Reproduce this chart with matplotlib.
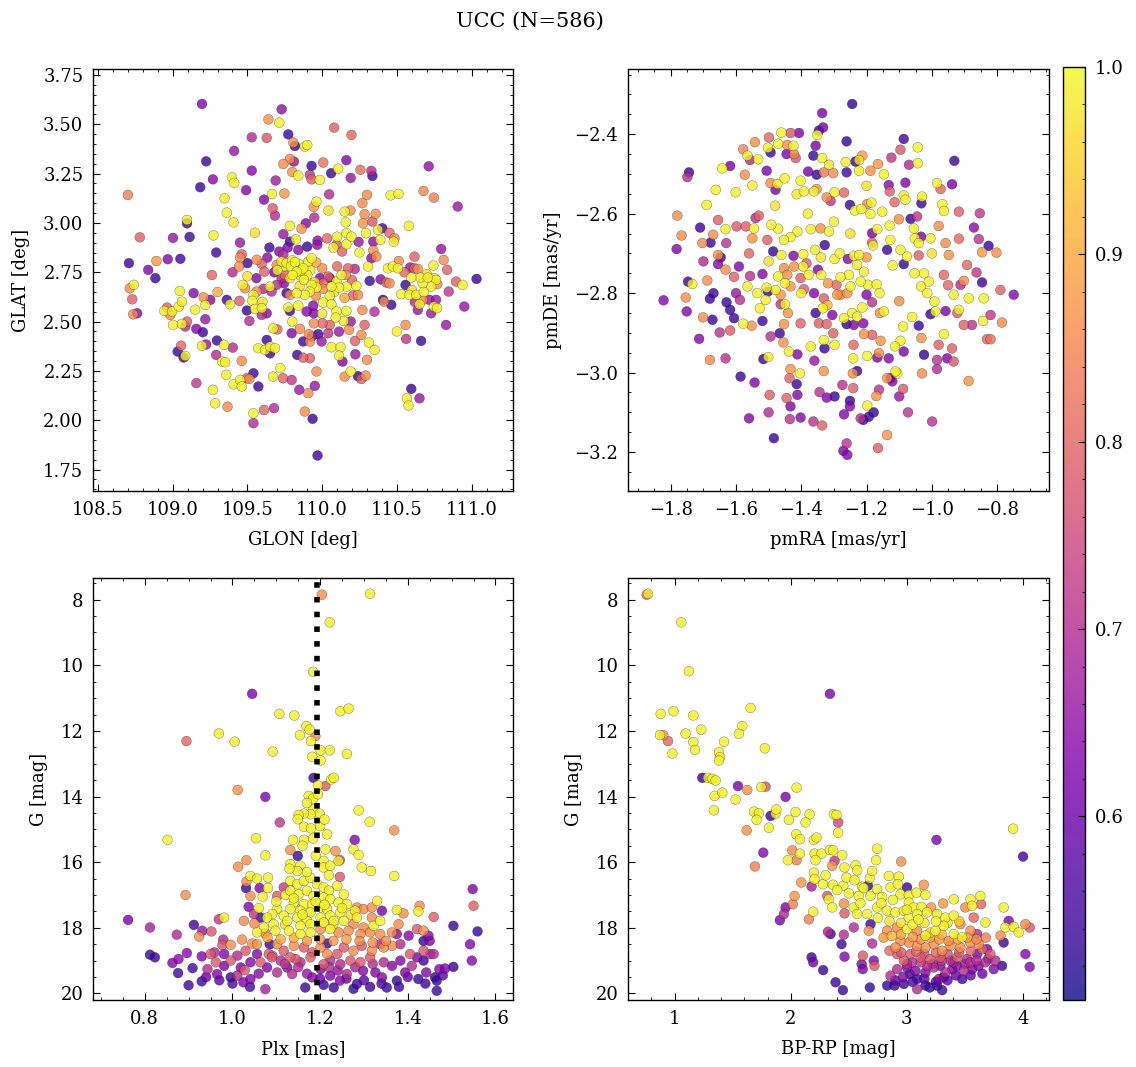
import numpy as np
import matplotlib
matplotlib.use("Agg")
import matplotlib.pyplot as plt

plt.rcParams.update({
    "font.family": "serif",
    "font.serif": ["DejaVu Serif"],
    "font.size": 13,
    "xtick.direction": "in",
    "ytick.direction": "in",
    "xtick.top": True,
    "ytick.right": True,
    "xtick.minor.visible": True,
    "ytick.minor.visible": True,
    "xtick.major.size": 5,
    "ytick.major.size": 5,
    "xtick.minor.size": 2.5,
    "ytick.minor.size": 2.5,
    "xtick.major.pad": 7,
    "ytick.major.pad": 7,
    "axes.labelpad": 9,
    "axes.linewidth": 1.0,
})

title = "UCC (N=586)"
plx_median = 1.192

# (GLON, GLAT, membership probability)
sky = [
    (109.196, 3.603, 0.63), (109.729, 3.576, 0.65), (109.640, 3.525, 0.87), (109.713, 3.508, 0.99),
    (110.080, 3.483, 0.79), (110.196, 3.446, 0.80), (109.773, 3.449, 0.54), (109.529, 3.434, 0.70),
    (109.629, 3.431, 0.78), (109.807, 3.407, 0.87), (109.818, 3.390, 0.54), (109.884, 3.387, 0.99),
    (109.900, 3.395, 0.99), (109.411, 3.365, 0.66), (109.224, 3.312, 0.54), (109.784, 3.324, 0.86),
    (109.740, 3.299, 0.86), (109.811, 3.311, 0.66), (109.929, 3.289, 0.54), (110.007, 3.306, 0.82),
    (110.162, 3.318, 0.63), (110.107, 3.275, 0.99), (110.256, 3.269, 0.82), (110.329, 3.264, 0.70),
    (110.336, 3.238, 0.54), (110.713, 3.287, 0.65), (109.529, 3.265, 0.63), (109.800, 3.258, 0.87),
    (109.840, 3.240, 0.99), (109.918, 3.243, 0.72), (109.929, 3.221, 0.79), (109.984, 3.218, 0.99),
    (110.060, 3.252, 0.54), (110.191, 3.228, 0.66), (109.269, 3.221, 0.64), (109.184, 3.181, 0.54),
    (109.396, 3.231, 0.99), (109.411, 3.203, 0.99), (109.689, 3.215, 0.67), (109.491, 3.166, 0.63),
    (109.664, 3.147, 0.99), (109.747, 3.149, 0.87), (109.611, 3.118, 0.63), (109.347, 3.125, 0.99),
    (108.700, 3.142, 0.84), (110.047, 3.145, 0.70), (109.962, 3.108, 0.99), (110.300, 3.142, 0.86),
    (110.269, 3.100, 0.86), (110.458, 3.140, 0.99), (110.511, 3.147, 0.99), (110.678, 3.162, 0.85),
    (110.747, 3.128, 0.84), (110.907, 3.083, 0.66), (109.362, 3.052, 0.99), (109.407, 3.003, 0.99),
    (109.096, 3.015, 0.99), (109.096, 2.998, 0.54), (109.669, 3.074, 0.78), (109.684, 3.037, 0.70),
    (109.944, 3.081, 0.87), (110.042, 3.063, 0.97), (110.151, 3.057, 0.99), (110.189, 3.063, 0.86),
    (109.947, 3.027, 0.70), (109.891, 2.998, 0.63), (109.784, 2.985, 0.99), (109.862, 2.971, 0.87),
    (110.158, 3.003, 0.99), (110.162, 2.948, 0.99), (110.284, 3.044, 0.86), (110.358, 3.046, 0.86),
    (110.273, 2.998, 0.87), (110.336, 3.007, 0.78), (110.373, 2.965, 0.99), (110.402, 2.973, 0.55),
    (110.580, 2.985, 0.99), (108.780, 2.927, 0.79), (109.002, 2.924, 0.66), (109.113, 2.929, 0.55),
    (109.273, 2.937, 0.99), (109.740, 2.943, 0.66), (109.824, 2.917, 0.99), (109.784, 2.905, 0.54),
    (109.969, 2.910, 0.65), (110.033, 2.922, 0.80), (110.096, 2.889, 0.79), (110.162, 2.892, 0.99),
    (110.196, 2.931, 0.99), (110.244, 2.904, 0.66), (110.293, 2.948, 0.99), (110.342, 2.905, 0.64),
    (110.389, 2.914, 0.99), (110.484, 2.922, 0.86), (110.479, 2.905, 0.99), (109.647, 2.875, 0.54),
    (109.713, 2.855, 0.64), (109.769, 2.875, 0.63), (109.840, 2.863, 0.64), (109.900, 2.880, 0.54),
    (109.967, 2.889, 0.65), (110.076, 2.875, 0.99), (110.133, 2.855, 0.79), (110.342, 2.861, 0.86),
    (110.796, 2.868, 0.66), (108.707, 2.796, 0.54), (108.836, 2.762, 0.63), (108.884, 2.720, 0.54),
    (108.891, 2.807, 0.88), (108.967, 2.816, 0.63), (109.051, 2.818, 0.55), (109.291, 2.850, 0.55),
    (109.451, 2.824, 0.86), (109.462, 2.841, 0.79), (109.444, 2.779, 0.86), (109.500, 2.796, 0.54),
    (109.562, 2.813, 0.86), (109.596, 2.792, 0.79), (109.633, 2.824, 0.64), (109.613, 2.753, 0.79),
    (109.560, 2.720, 0.63), (109.262, 2.736, 0.80), (109.696, 2.787, 0.86), (109.729, 2.804, 0.98),
    (109.762, 2.796, 0.99), (109.791, 2.779, 1.00), (109.818, 2.801, 1.00), (109.847, 2.791, 0.99),
    (109.873, 2.770, 1.00), (109.907, 2.804, 0.99), (109.929, 2.821, 0.99), (109.829, 2.753, 1.00),
    (109.856, 2.733, 0.99), (109.802, 2.736, 1.00), (109.900, 2.736, 0.99), (109.878, 2.711, 0.99),
    (109.784, 2.720, 0.98), (109.751, 2.736, 0.80), (109.729, 2.720, 0.70), (109.744, 2.694, 0.63),
    (109.696, 2.686, 0.70), (109.651, 2.677, 0.99), (109.662, 2.652, 0.70), (109.607, 2.666, 0.70),
    (109.469, 2.686, 0.99), (109.484, 2.669, 0.86), (109.562, 2.652, 0.86), (109.984, 2.720, 0.63),
    (110.007, 2.694, 0.80), (110.040, 2.728, 0.79), (110.051, 2.720, 0.54), (110.096, 2.703, 0.99),
    (110.129, 2.736, 0.99), (110.158, 2.736, 0.86), (110.173, 2.770, 0.79), (110.218, 2.767, 0.70),
    (110.307, 2.779, 0.99), (110.318, 2.706, 0.54), (110.162, 2.677, 0.99), (110.113, 2.672, 0.99),
    (110.062, 2.677, 0.99), (110.007, 2.666, 0.86), (109.962, 2.672, 0.99), (109.929, 2.686, 0.99),
    (109.918, 2.652, 0.99), (109.958, 2.632, 0.86), (109.884, 2.635, 0.99), (109.829, 2.644, 0.99),
    (109.762, 2.644, 0.54), (109.784, 2.635, 0.86), (110.229, 2.681, 0.99), (110.240, 2.635, 0.86),
    (110.207, 2.632, 0.79), (110.051, 2.630, 0.99), (110.007, 2.596, 0.99), (110.062, 2.588, 0.99),
    (109.773, 2.571, 0.99), (109.784, 2.554, 0.54), (109.840, 2.581, 0.99), (109.940, 2.581, 0.64),
    (109.896, 2.551, 0.64), (109.944, 2.542, 0.63), (109.540, 2.635, 0.99), (109.533, 2.605, 0.99),
    (109.551, 2.564, 0.99), (109.596, 2.568, 0.99), (109.496, 2.556, 0.54), (109.513, 2.503, 0.70),
    (109.596, 2.534, 0.70), (109.629, 2.542, 0.64), (109.447, 2.605, 0.79), (109.362, 2.610, 0.54),
    (109.384, 2.588, 0.99), (109.251, 2.610, 0.64), (109.207, 2.623, 0.87), (109.218, 2.584, 0.99),
    (109.140, 2.644, 0.63), (109.047, 2.655, 0.99), (108.962, 2.571, 0.79), (108.944, 2.554, 0.99),
    (108.996, 2.551, 0.99), (109.040, 2.576, 0.99), (109.062, 2.601, 0.99), (108.984, 2.534, 0.86),
    (109.002, 2.483, 0.99), (109.062, 2.488, 0.99), (109.096, 2.500, 0.79), (109.084, 2.475, 0.70),
    (108.713, 2.669, 0.86), (108.740, 2.686, 0.99), (108.729, 2.613, 0.79), (108.736, 2.537, 0.86),
    (108.762, 2.542, 0.64), (109.218, 2.512, 0.66), (109.158, 2.463, 0.63), (109.202, 2.446, 0.54),
    (109.224, 2.384, 0.66), (109.196, 2.377, 0.99), (109.056, 2.378, 0.80), (109.033, 2.348, 0.54),
    (109.084, 2.326, 0.99), (109.073, 2.318, 0.54), (109.296, 2.404, 0.54), (109.344, 2.382, 0.99),
    (109.402, 2.368, 0.70), (109.291, 2.331, 0.70), (109.331, 2.297, 0.99), (109.351, 2.294, 0.99),
    (109.462, 2.301, 0.86), (109.358, 2.230, 0.99), (109.407, 2.182, 0.99), (109.451, 2.204, 0.99),
    (109.496, 2.213, 0.80), (109.513, 2.209, 0.86), (109.540, 2.238, 0.54), (109.462, 2.171, 0.99),
    (109.269, 2.154, 0.99), (109.158, 2.188, 0.72), (109.284, 2.086, 0.99), (109.367, 2.068, 0.86),
    (109.540, 2.035, 0.99), (109.540, 1.985, 0.70), (109.611, 2.052, 0.80), (109.678, 2.061, 0.70),
    (109.573, 2.171, 0.54), (109.671, 2.221, 0.99), (109.720, 2.264, 0.99), (109.738, 2.213, 0.80),
    (109.796, 2.204, 0.72), (109.847, 2.154, 0.66), (109.907, 2.137, 0.86), (109.951, 2.174, 0.66),
    (109.962, 2.247, 0.86), (109.884, 2.044, 0.86), (109.936, 2.007, 0.54), (109.969, 1.821, 0.54),
    (109.573, 2.365, 0.99), (109.618, 2.356, 0.99), (109.651, 2.373, 0.99), (109.684, 2.365, 0.99),
    (109.651, 2.339, 0.54), (109.629, 2.407, 0.54), (109.673, 2.466, 0.99), (109.796, 2.441, 0.63),
    (109.851, 2.463, 0.86), (109.873, 2.399, 0.54), (109.918, 2.399, 0.86), (109.944, 2.491, 0.86),
    (109.973, 2.436, 0.54), (109.911, 2.436, 0.86), (109.996, 2.399, 0.66), (110.040, 2.441, 0.72),
    (110.062, 2.370, 0.99), (110.124, 2.370, 0.99), (110.113, 2.327, 0.99), (110.136, 2.297, 0.63),
    (110.113, 2.449, 0.66), (110.180, 2.458, 0.86), (110.220, 2.402, 0.79), (110.262, 2.432, 0.86),
    (110.284, 2.483, 0.79), (110.313, 2.394, 0.99), (110.351, 2.356, 0.99), (110.300, 2.306, 0.86),
    (110.222, 2.334, 0.66), (109.918, 2.314, 0.79), (109.873, 2.317, 0.79), (109.833, 2.331, 0.54),
    (110.151, 2.221, 0.86), (110.191, 2.247, 0.99), (110.240, 2.223, 0.54), (110.291, 2.226, 0.86),
    (110.262, 2.209, 0.79), (110.407, 2.610, 0.54), (110.462, 2.585, 0.55), (110.414, 2.601, 0.86),
    (110.269, 2.559, 0.86), (110.162, 2.554, 0.99), (110.096, 2.551, 0.99), (110.144, 2.503, 0.99),
    (110.191, 2.500, 0.66), (110.091, 2.520, 0.99), (110.051, 2.483, 0.79), (110.002, 2.491, 0.80),
    (109.929, 2.424, 0.66), (110.558, 2.483, 0.86), (110.562, 2.412, 0.72), (110.662, 2.402, 0.54),
    (110.596, 2.159, 0.54), (110.567, 2.111, 0.99), (110.578, 2.074, 0.99), (110.651, 2.111, 0.66),
    (110.951, 2.576, 0.66), (111.033, 2.716, 0.54), (110.829, 2.483, 0.66), (110.847, 2.652, 0.72),
    (110.896, 2.703, 0.79), (110.940, 2.686, 0.99), (110.836, 2.762, 0.79), (110.813, 2.812, 0.86),
    (110.744, 2.784, 0.99), (110.751, 2.720, 0.99), (110.762, 2.711, 0.99), (110.729, 2.677, 0.99),
    (110.673, 2.694, 0.99), (110.658, 2.723, 0.99), (110.618, 2.770, 0.79), (110.640, 2.767, 0.86),
    (110.596, 2.723, 0.99), (110.589, 2.774, 0.66), (110.558, 2.686, 0.54), (110.529, 2.639, 0.99),
    (110.584, 2.635, 0.99), (110.629, 2.635, 0.99), (110.651, 2.588, 0.99), (110.673, 2.610, 0.86),
    (110.718, 2.610, 0.66), (110.762, 2.610, 0.66), (110.747, 2.576, 0.99), (110.769, 2.568, 0.99),
    (110.729, 2.542, 0.66), (110.640, 2.559, 0.66), (110.440, 2.770, 0.99), (110.473, 2.779, 0.99),
    (110.507, 2.770, 0.99), (110.513, 2.807, 0.86), (110.618, 2.829, 0.79), (110.707, 2.723, 0.99),
    (110.429, 2.698, 0.79), (110.451, 2.694, 0.86), (110.391, 2.714, 0.64), (110.362, 2.829, 0.86),
    (110.329, 2.821, 0.64), (109.700, 2.760, 0.99), (109.750, 2.780, 0.97), (109.800, 2.810, 0.99),
    (109.860, 2.760, 0.99), (109.920, 2.760, 0.98), (109.960, 2.800, 0.90), (110.000, 2.770, 0.86),
    (110.100, 2.780, 0.80), (109.740, 2.840, 0.70), (109.680, 2.750, 0.62), (109.850, 2.680, 0.97),
    (109.950, 2.700, 0.97), (110.080, 2.650, 0.97), (110.150, 2.620, 0.90), (110.200, 2.710, 0.80),
    (110.600, 2.660, 0.97), (110.680, 2.650, 0.99), (110.700, 2.740, 0.97), (110.770, 2.690, 0.86),
    (110.550, 2.750, 0.80), (110.620, 2.600, 0.70), (109.500, 2.730, 0.97), (109.400, 2.750, 0.70),
    (109.300, 2.650, 0.90), (109.150, 2.560, 0.99), (109.600, 2.600, 0.97), (109.700, 2.460, 0.80),
    (109.800, 2.500, 0.99), (110.000, 2.540, 0.97), (110.350, 2.550, 0.70), (110.250, 2.850, 0.99),
    (109.550, 2.950, 0.97), (109.450, 2.900, 0.66), (110.450, 2.950, 0.80), (110.500, 2.450, 0.99),
    (110.100, 2.930, 0.99),
]

# (pmRA, pmDE, membership probability)
pms = [
    (-1.244, -2.324, 0.53), (-1.336, -2.347, 0.62), (-1.333, -2.383, 0.62), (-1.346, -2.391, 0.53),
    (-1.351, -2.402, 1.00), (-1.261, -2.418, 0.53), (-1.086, -2.412, 0.55), (-1.043, -2.433, 0.99),
    (-1.096, -2.439, 0.78), (-0.931, -2.467, 0.54), (-1.043, -2.473, 0.99), (-1.070, -2.477, 0.70),
    (-1.124, -2.459, 0.72), (-1.165, -2.475, 0.88), (-1.147, -2.501, 1.00), (-1.188, -2.492, 0.87),
    (-1.213, -2.454, 0.88), (-1.223, -2.465, 0.98), (-1.234, -2.469, 0.54), (-1.264, -2.470, 0.99),
    (-1.223, -2.492, 0.99), (-1.261, -2.496, 0.55), (-1.302, -2.498, 0.86), (-1.331, -2.496, 0.84),
    (-1.353, -2.502, 0.53), (-1.379, -2.494, 0.62), (-1.336, -2.460, 0.99), (-1.315, -2.477, 0.98),
    (-1.363, -2.454, 0.53), (-1.356, -2.429, 0.62), (-1.407, -2.397, 0.63), (-1.433, -2.397, 0.78),
    (-1.461, -2.396, 1.00), (-1.499, -2.408, 0.80), (-1.471, -2.424, 1.00), (-1.443, -2.427, 0.86),
    (-1.424, -2.429, 0.99), (-1.422, -2.450, 0.85), (-1.417, -2.460, 0.78), (-1.445, -2.450, 0.62),
    (-1.494, -2.446, 0.54), (-1.502, -2.434, 0.99), (-1.542, -2.420, 0.86), (-1.578, -2.438, 0.85),
    (-1.565, -2.454, 0.99), (-1.532, -2.463, 0.99), (-1.557, -2.465, 0.70), (-1.618, -2.480, 0.62),
    (-1.642, -2.486, 1.00), (-1.573, -2.502, 0.86), (-1.550, -2.529, 0.99), (-1.506, -2.492, 0.62),
    (-1.473, -2.525, 0.99), (-1.494, -2.523, 0.86), (-1.479, -2.540, 0.62), (-1.451, -2.511, 0.99),
    (-1.402, -2.517, 1.00), (-1.392, -2.544, 0.99), (-1.414, -2.551, 0.98), (-1.361, -2.544, 0.99),
    (-1.353, -2.538, 0.87), (-1.322, -2.559, 0.86), (-1.310, -2.568, 0.72), (-1.298, -2.546, 0.99),
    (-1.269, -2.547, 0.80), (-1.251, -2.578, 0.54), (-1.198, -2.576, 0.86), (-1.185, -2.572, 0.99),
    (-1.236, -2.592, 0.99), (-1.216, -2.588, 0.99), (-1.188, -2.601, 1.00), (-1.152, -2.595, 0.99),
    (-1.114, -2.571, 0.80), (-1.081, -2.565, 0.99), (-1.086, -2.554, 0.98), (-1.081, -2.522, 0.63),
    (-1.132, -2.528, 0.64), (-1.129, -2.544, 0.79), (-1.030, -2.557, 0.99), (-1.032, -2.574, 0.54),
    (-0.984, -2.523, 0.99), (-0.973, -2.538, 0.80), (-0.938, -2.526, 0.62), (-0.968, -2.576, 0.99),
    (-0.963, -2.593, 0.99), (-0.917, -2.595, 0.79), (-0.853, -2.599, 0.72), (-0.871, -2.635, 0.64),
    (-0.856, -2.664, 0.71), (-0.826, -2.681, 0.54), (-0.846, -2.697, 0.88), (-0.802, -2.698, 0.86),
    (-0.892, -2.729, 0.80), (-0.863, -2.748, 0.72), (-0.846, -2.773, 0.54), (-0.790, -2.792, 0.79),
    (-0.749, -2.804, 0.63), (-0.785, -2.874, 0.86), (-0.820, -2.855, 0.72), (-0.843, -2.870, 0.99),
    (-0.831, -2.916, 0.80), (-0.820, -2.916, 0.82), (-0.887, -2.813, 0.99), (-0.841, -2.813, 1.00),
    (-0.912, -2.779, 0.70), (-0.917, -2.842, 0.99), (-0.902, -2.769, 0.86), (-0.887, -3.021, 0.87),
    (-0.948, -2.704, 0.87), (-0.963, -2.754, 0.80), (-0.958, -2.674, 0.86), (-0.917, -2.663, 0.80),
    (-0.979, -2.631, 0.86), (-1.004, -2.662, 0.99), (-1.033, -2.658, 0.62), (-1.052, -2.662, 0.99),
    (-1.055, -2.637, 0.99), (-1.065, -2.613, 0.54), (-1.045, -2.607, 0.72), (-1.101, -2.614, 0.86),
    (-1.129, -2.630, 1.00), (-1.127, -2.666, 0.99), (-1.167, -2.639, 0.99), (-1.183, -2.649, 0.62),
    (-1.183, -2.673, 0.79), (-1.137, -2.691, 0.54), (-1.096, -2.691, 0.99), (-1.076, -2.708, 0.99),
    (-1.086, -2.727, 0.53), (-1.040, -2.705, 0.79), (-1.040, -2.674, 0.99), (-1.053, -2.750, 0.99),
    (-1.024, -2.750, 0.99), (-1.033, -2.783, 0.99), (-1.009, -2.771, 0.99), (-1.014, -2.800, 0.99),
    (-0.992, -2.821, 0.99), (-0.989, -2.846, 0.99), (-1.004, -2.853, 0.54), (-0.958, -2.845, 0.62),
    (-0.933, -2.804, 0.99), (-0.922, -2.850, 0.79), (-0.902, -2.880, 0.79), (-0.877, -2.880, 0.71),
    (-0.963, -2.903, 0.99), (-0.979, -2.930, 0.79), (-0.938, -2.939, 0.79), (-0.933, -2.972, 0.78),
    (-0.953, -2.964, 0.63), (-0.984, -2.968, 0.71), (-0.984, -2.991, 0.70), (-1.030, -3.002, 0.86),
    (-1.024, -2.955, 0.53), (-1.040, -2.882, 0.54), (-1.032, -2.913, 0.87), (-1.086, -2.947, 0.62),
    (-1.096, -2.920, 0.99), (-1.088, -2.884, 0.99), (-1.113, -2.934, 0.99), (-1.106, -3.002, 0.99),
    (-1.088, -3.041, 0.78), (-1.127, -3.014, 0.54), (-1.132, -2.964, 0.63), (-1.162, -2.951, 0.86),
    (-1.157, -2.920, 0.87), (-1.183, -2.905, 0.79), (-1.208, -2.903, 0.87), (-1.210, -2.876, 0.63),
    (-1.239, -2.880, 0.62), (-1.261, -2.878, 0.53), (-1.244, -2.850, 0.99), (-1.229, -2.859, 0.99),
    (-1.269, -2.863, 0.99), (-1.213, -2.836, 0.99), (-1.147, -2.846, 0.99), (-1.159, -2.850, 0.87),
    (-1.183, -2.823, 0.71), (-1.200, -2.804, 0.63), (-1.196, -2.779, 0.99), (-1.169, -2.778, 0.99),
    (-1.218, -2.771, 0.99), (-1.208, -2.746, 0.99), (-1.229, -2.729, 0.99), (-1.254, -2.754, 0.99),
    (-1.249, -2.783, 0.99), (-1.259, -2.800, 0.87), (-1.280, -2.804, 0.86), (-1.292, -2.779, 0.80),
    (-1.318, -2.775, 0.87), (-1.339, -2.754, 0.99), (-1.349, -2.741, 0.63), (-1.377, -2.754, 0.99),
    (-1.384, -2.725, 0.79), (-1.394, -2.733, 0.99), (-1.422, -2.733, 0.87), (-1.453, -2.737, 0.86),
    (-1.461, -2.704, 0.99), (-1.424, -2.706, 0.63), (-1.394, -2.702, 0.99), (-1.358, -2.691, 0.99),
    (-1.328, -2.679, 0.54), (-1.298, -2.714, 0.99), (-1.282, -2.700, 0.99), (-1.257, -2.714, 0.63),
    (-1.239, -2.706, 0.99), (-1.223, -2.704, 0.99), (-1.315, -2.645, 0.99), (-1.341, -2.637, 0.87),
    (-1.371, -2.639, 0.99), (-1.412, -2.645, 0.99), (-1.433, -2.659, 0.99), (-1.453, -2.666, 0.99),
    (-1.471, -2.638, 0.99), (-1.492, -2.628, 0.99), (-1.504, -2.666, 0.79), (-1.486, -2.695, 0.54),
    (-1.540, -2.611, 0.71), (-1.530, -2.605, 0.79), (-1.545, -2.637, 0.99), (-1.550, -2.662, 0.87),
    (-1.570, -2.632, 0.79), (-1.598, -2.632, 0.78), (-1.632, -2.639, 0.99), (-1.655, -2.616, 0.79),
    (-1.670, -2.653, 0.86), (-1.678, -2.673, 0.54), (-1.703, -2.674, 0.86), (-1.710, -2.635, 0.54),
    (-1.690, -2.578, 0.99), (-1.662, -2.540, 0.99), (-1.601, -2.546, 0.99), (-1.744, -2.496, 0.54),
    (-1.749, -2.508, 0.71), (-1.780, -2.605, 0.86), (-1.767, -2.655, 0.86), (-1.782, -2.689, 0.63),
    (-1.747, -2.771, 0.54), (-1.734, -2.777, 0.99), (-1.688, -2.768, 0.86), (-1.655, -2.704, 0.87),
    (-1.647, -2.710, 0.54), (-1.655, -2.727, 0.63), (-1.632, -2.741, 0.86), (-1.630, -2.674, 0.71),
    (-1.591, -2.733, 0.63), (-1.606, -2.759, 0.79), (-1.557, -2.757, 0.71), (-1.519, -2.752, 0.63),
    (-1.471, -2.758, 0.99), (-1.443, -2.754, 0.87), (-1.402, -2.762, 0.79), (-1.450, -2.775, 0.99),
    (-1.479, -2.792, 0.99), (-1.506, -2.786, 0.99), (-1.535, -2.800, 0.99), (-1.565, -2.783, 0.99),
    (-1.527, -2.838, 0.99), (-1.509, -2.817, 0.99), (-1.502, -2.796, 0.54), (-1.463, -2.804, 0.87),
    (-1.433, -2.783, 0.87), (-1.392, -2.790, 0.79), (-1.361, -2.800, 0.63), (-1.331, -2.813, 0.79),
    (-1.290, -2.804, 0.87), (-1.822, -2.818, 0.63), (-1.754, -2.811, 0.86), (-1.751, -2.846, 0.63),
    (-1.701, -2.861, 0.86), (-1.672, -2.867, 0.54), (-1.680, -2.814, 0.54), (-1.669, -2.800, 0.54),
    (-1.629, -2.823, 0.54), (-1.618, -2.842, 0.54), (-1.606, -2.863, 0.54), (-1.588, -2.817, 0.71),
    (-1.618, -2.894, 0.79), (-1.650, -2.899, 0.71), (-1.713, -2.915, 0.63), (-1.680, -2.968, 0.86),
    (-1.632, -2.964, 0.71), (-1.578, -2.877, 0.99), (-1.552, -2.882, 0.87), (-1.519, -2.870, 0.54),
    (-1.494, -2.909, 0.71), (-1.466, -2.901, 0.54), (-1.453, -2.878, 0.87), (-1.463, -2.828, 0.71),
    (-1.450, -2.828, 0.99), (-1.441, -2.850, 0.87), (-1.402, -2.876, 0.79), (-1.356, -2.850, 0.54),
    (-1.334, -2.838, 0.99), (-1.346, -2.876, 0.79), (-1.305, -2.855, 0.63), (-1.322, -2.878, 0.79),
    (-1.302, -2.901, 0.79), (-1.331, -2.918, 0.99), (-1.298, -2.930, 0.99), (-1.329, -2.939, 0.54),
    (-1.371, -2.934, 0.99), (-1.412, -2.954, 0.63), (-1.438, -2.947, 0.99), (-1.455, -2.924, 0.87),
    (-1.501, -2.961, 0.99), (-1.516, -2.966, 0.54), (-1.586, -3.010, 0.54), (-1.543, -3.025, 0.63),
    (-1.497, -3.056, 0.79), (-1.445, -3.064, 0.79), (-1.414, -3.029, 0.54), (-1.412, -3.056, 0.63),
    (-1.433, -3.085, 0.63), (-1.435, -3.117, 0.71), (-1.402, -3.113, 0.63), (-1.363, -3.123, 0.71),
    (-1.336, -3.133, 0.79), (-1.344, -3.049, 0.71), (-1.322, -3.063, 0.63), (-1.298, -3.060, 0.54),
    (-1.274, -3.031, 0.71), (-1.242, -3.002, 0.87), (-1.229, -2.996, 0.54), (-1.241, -3.039, 0.79),
    (-1.251, -3.071, 0.54), (-1.251, -3.085, 0.63), (-1.269, -3.105, 0.63), (-1.218, -3.115, 0.71),
    (-1.210, -3.119, 0.54), (-1.193, -3.111, 0.54), (-1.178, -3.100, 0.54), (-1.198, -3.083, 0.99),
    (-1.170, -3.059, 0.87), (-1.162, -3.043, 0.71), (-1.137, -3.014, 0.87), (-1.111, -2.997, 0.99),
    (-1.121, -3.022, 0.63), (-1.484, -3.165, 0.54), (-1.560, -3.115, 0.63), (-1.261, -3.178, 0.71),
    (-1.271, -3.197, 0.63), (-1.259, -3.207, 0.63), (-1.165, -3.190, 0.79), (-1.137, -3.157, 0.87),
    (-1.073, -3.100, 0.71), (-0.999, -3.123, 0.71), (-1.331, -2.996, 0.87), (-1.404, -3.002, 0.99),
    (-1.433, -2.991, 0.87), (-1.436, -3.014, 0.79), (-1.241, -2.964, 0.99), (-1.198, -2.958, 0.99),
    (-1.167, -2.962, 0.63), (-1.380, -2.600, 0.99), (-1.300, -2.620, 0.99), (-1.250, -2.650, 0.97),
    (-1.180, -2.680, 0.99), (-1.120, -2.730, 0.99), (-1.340, -2.710, 0.97), (-1.280, -2.760, 0.99),
    (-1.200, -2.710, 0.88), (-1.400, -2.800, 0.99), (-1.320, -2.830, 0.92), (-1.160, -2.800, 0.99),
    (-1.100, -2.820, 0.86), (-1.060, -2.860, 0.99), (-1.240, -2.930, 0.80), (-1.360, -2.970, 0.66),
    (-1.500, -2.720, 0.97), (-1.560, -2.700, 0.80), (-1.600, -2.800, 0.66), (-1.480, -2.580, 0.97),
    (-1.200, -2.530, 0.97), (-1.000, -2.700, 0.97), (-0.950, -2.780, 0.80), (-1.700, -2.720, 0.70),
    (-1.100, -3.060, 0.66), (-1.500, -3.100, 0.70),
]

# (Plx, G, membership probability)
plx_g = [
    (1.204, 7.85, 0.86), (1.314, 7.82, 0.99), (1.222, 8.69, 0.99), (1.184, 10.20, 0.99),
    (1.045, 10.87, 0.62), (1.107, 11.48, 0.99), (1.141, 11.53, 0.99), (1.246, 11.40, 0.99),
    (1.265, 11.32, 0.99), (1.169, 11.85, 0.99), (1.176, 11.96, 0.99), (1.154, 12.13, 0.99),
    (1.179, 12.31, 0.99), (1.189, 12.16, 0.85), (0.969, 12.08, 0.99), (1.005, 12.33, 0.99),
    (0.895, 12.31, 0.80), (1.092, 12.63, 0.99), (1.201, 12.59, 0.99), (1.222, 12.59, 0.99),
    (1.261, 12.70, 0.99), (1.182, 12.79, 0.99), (1.201, 12.90, 0.99), (1.185, 13.43, 0.54),
    (1.212, 13.68, 0.78), (1.225, 13.48, 0.99), (1.231, 13.43, 0.99), (1.195, 13.66, 0.99),
    (1.012, 13.80, 0.87), (1.075, 14.01, 0.63), (1.174, 13.98, 0.99), (1.184, 14.06, 0.99),
    (1.195, 13.93, 0.99), (1.184, 14.39, 0.99), (1.199, 14.52, 0.99), (1.178, 14.54, 0.99),
    (1.163, 14.52, 0.99), (1.151, 14.56, 0.99), (1.149, 14.69, 0.99), (1.288, 14.42, 0.99),
    (1.313, 14.77, 0.99), (1.108, 14.79, 0.72), (1.163, 14.92, 0.99), (1.179, 14.97, 0.99),
    (1.216, 15.15, 0.99), (0.852, 15.32, 0.99), (1.054, 15.27, 0.99), (1.138, 15.32, 0.99),
    (1.163, 15.32, 0.99), (1.184, 15.28, 0.99), (1.279, 15.32, 0.63), (1.369, 15.03, 0.87),
    (1.132, 15.63, 0.86), (1.149, 15.81, 0.54), (1.212, 15.61, 0.99), (1.235, 15.66, 0.87),
    (1.276, 15.61, 0.99), (1.288, 15.78, 0.99), (1.075, 15.79, 0.99), (1.032, 15.94, 0.86),
    (1.013, 16.14, 0.86), (1.245, 15.94, 0.78), (1.242, 15.96, 0.99), (1.295, 16.16, 0.99),
    (1.316, 16.27, 0.99), (1.369, 16.42, 0.99), (1.132, 16.06, 0.99), (1.155, 16.11, 0.99),
    (1.148, 16.27, 0.99), (1.208, 15.96, 0.99), (1.208, 16.16, 0.99), (1.223, 16.11, 0.99),
    (1.041, 16.42, 0.99), (1.056, 16.50, 0.99), (1.081, 16.47, 0.99), (1.032, 16.59, 0.86),
    (1.031, 16.79, 0.54), (1.062, 16.79, 0.62), (1.081, 16.79, 0.99), (1.069, 17.05, 0.99),
    (1.041, 17.03, 0.86), (0.893, 17.00, 0.86), (1.245, 16.45, 0.78), (1.239, 16.72, 0.99),
    (1.254, 16.98, 0.99), (1.117, 16.77, 0.72), (1.121, 17.00, 0.99), (1.102, 17.03, 0.79),
    (1.132, 16.57, 0.99), (1.148, 16.67, 0.99), (1.163, 16.57, 0.99), (1.178, 16.47, 0.99),
    (1.193, 16.67, 0.99), (1.208, 16.77, 0.99), (1.220, 16.87, 0.99), (1.132, 16.87, 0.99),
    (1.151, 16.98, 0.99), (1.170, 16.87, 0.99), (1.185, 17.03, 0.99), (1.208, 17.08, 0.99),
    (1.223, 17.13, 0.99), (1.242, 17.23, 0.99), (1.140, 17.23, 0.99), (1.163, 17.28, 0.99),
    (1.182, 17.28, 0.99), (1.201, 17.38, 0.99), (1.216, 17.43, 0.99), (1.132, 17.43, 0.99),
    (1.155, 17.48, 0.99), (1.178, 17.53, 0.99), (1.102, 17.43, 0.99), (1.091, 17.58, 0.99),
    (1.117, 17.63, 0.99), (1.148, 17.69, 0.99), (1.170, 17.79, 0.99), (1.201, 17.69, 0.99),
    (1.223, 17.63, 0.99), (1.246, 17.53, 0.99), (1.261, 17.28, 0.99), (1.280, 17.48, 0.99),
    (1.284, 17.38, 0.86), (1.299, 17.43, 0.86), (1.318, 17.38, 0.86), (1.330, 17.18, 0.99),
    (1.341, 17.48, 0.62), (1.375, 17.46, 0.99), (1.390, 17.56, 0.86), (1.424, 17.50, 0.99),
    (1.427, 17.33, 0.86), (1.459, 17.67, 0.79), (1.550, 17.33, 0.79), (1.548, 16.82, 0.62),
    (1.079, 17.69, 0.99), (1.094, 17.89, 0.99), (1.125, 17.79, 0.99), (1.155, 17.94, 0.99),
    (1.178, 17.89, 0.99), (1.208, 17.84, 0.99), (1.231, 17.79, 0.99), (1.254, 17.79, 0.99),
    (1.276, 17.89, 0.86), (1.299, 17.99, 0.86), (1.322, 17.94, 0.99), (1.337, 17.79, 0.99),
    (1.318, 17.69, 0.86), (1.284, 17.69, 0.99), (1.072, 17.99, 0.99), (1.098, 18.09, 0.99),
    (1.129, 18.09, 0.99), (1.155, 18.19, 0.99), (1.178, 18.14, 0.99), (1.201, 18.04, 0.86),
    (1.223, 18.04, 0.99), (1.242, 18.14, 0.86), (1.265, 18.09, 0.86), (1.292, 18.19, 0.86),
    (1.314, 18.14, 0.86), (1.337, 18.19, 0.86), (1.364, 18.14, 0.86), (1.379, 17.89, 0.86),
    (1.375, 18.19, 0.63), (1.056, 18.14, 0.99), (1.075, 18.17, 0.86), (1.050, 17.87, 0.86),
    (1.026, 17.79, 0.86), (1.022, 18.36, 0.86), (1.045, 18.48, 0.86), (0.996, 18.52, 0.86),
    (0.981, 17.69, 0.99), (0.969, 17.74, 0.72), (1.037, 17.36, 0.63), (1.049, 17.58, 0.72),
    (1.064, 17.69, 0.54), (0.762, 17.76, 0.62), (0.812, 17.99, 0.68), (0.873, 18.21, 0.70),
    (0.912, 17.91, 0.55), (0.931, 18.09, 0.66), (0.952, 18.11, 0.78), (0.924, 18.27, 0.86),
    (0.812, 18.82, 0.54), (0.823, 18.90, 0.54), (0.863, 19.07, 0.63), (0.877, 18.95, 0.64),
    (0.896, 18.77, 0.64), (0.876, 19.38, 0.55), (0.909, 19.23, 0.55), (0.930, 18.87, 0.63),
    (0.930, 19.63, 0.54), (0.943, 19.26, 0.70), (0.965, 19.41, 0.63), (0.959, 18.75, 0.70),
    (0.981, 18.80, 0.63), (0.979, 18.36, 0.70), (0.962, 19.05, 0.78), (0.996, 19.51, 0.54),
    (1.011, 19.46, 0.70), (1.025, 19.66, 0.62), (1.028, 19.29, 0.78), (1.041, 19.56, 0.63),
    (1.075, 19.87, 0.68), (1.064, 19.05, 0.78), (1.085, 18.50, 0.54), (1.091, 18.85, 0.78),
    (1.056, 18.80, 0.63), (1.079, 19.21, 0.63), (1.102, 19.36, 0.70), (1.125, 19.21, 0.63),
    (1.136, 19.41, 0.70), (1.144, 18.95, 0.78), (1.155, 19.05, 0.70), (1.178, 18.90, 0.79),
    (1.166, 19.82, 0.54), (1.182, 19.51, 0.63), (1.201, 19.26, 0.63), (1.216, 18.48, 0.54),
    (1.223, 19.46, 0.63), (1.208, 19.74, 0.54), (1.231, 19.82, 0.54), (1.245, 19.61, 0.63),
    (1.261, 19.41, 0.70), (1.276, 19.86, 0.54), (1.284, 19.71, 0.54), (1.298, 19.31, 0.63),
    (1.314, 19.80, 0.54), (1.326, 19.36, 0.63), (1.341, 19.51, 0.63), (1.352, 19.82, 0.54),
    (1.345, 19.05, 0.70), (1.364, 19.16, 0.63), (1.375, 19.61, 0.54), (1.383, 19.00, 0.63),
    (1.394, 19.36, 0.63), (1.409, 19.16, 0.70), (1.424, 19.56, 0.54), (1.436, 19.00, 0.54),
    (1.442, 19.36, 0.63), (1.451, 18.80, 0.70), (1.462, 19.51, 0.54), (1.466, 19.92, 0.54),
    (1.472, 19.26, 0.63), (1.485, 19.24, 0.63), (1.504, 19.19, 0.54), (1.466, 19.61, 0.54),
    (1.436, 18.40, 0.54), (1.450, 18.40, 0.63), (1.421, 18.04, 0.78), (1.436, 18.09, 0.86),
    (1.447, 18.24, 0.63), (1.504, 17.94, 0.54), (1.542, 18.50, 0.63), (1.559, 18.11, 0.54),
    (1.546, 19.00, 0.63), (1.402, 18.24, 0.63), (1.383, 18.50, 0.70), (1.364, 18.55, 0.86),
    (1.337, 18.50, 0.70), (1.345, 18.60, 0.86), (1.318, 18.70, 0.86), (1.295, 18.55, 0.78),
    (1.276, 18.70, 0.86), (1.254, 18.60, 0.78), (1.239, 18.80, 0.78), (1.216, 18.80, 0.86),
    (1.201, 18.60, 0.86), (1.182, 18.75, 0.78), (1.163, 18.60, 0.78), (1.140, 18.55, 0.86),
    (1.117, 18.70, 0.78), (1.102, 18.50, 0.86), (1.083, 18.80, 0.78), (1.056, 18.50, 0.86),
    (1.030, 18.70, 0.78), (1.011, 18.85, 0.70), (0.996, 19.00, 0.78), (0.977, 18.52, 0.78),
    (0.950, 18.80, 0.78), (1.292, 19.05, 0.78), (1.314, 18.90, 0.78), (1.269, 19.00, 0.78),
    (1.246, 19.11, 0.70), (1.223, 19.00, 0.70), (1.208, 19.11, 0.78), (1.132, 18.90, 0.78),
    (1.110, 19.00, 0.70), (1.041, 19.05, 0.63), (1.019, 19.21, 0.63), (0.981, 19.16, 0.63),
    (1.436, 18.70, 0.78), (1.459, 18.80, 0.70), (1.405, 18.80, 0.78), (1.421, 18.90, 0.63),
    (1.100, 17.20, 0.99), (1.120, 17.90, 0.97), (1.140, 17.10, 0.99), (1.160, 17.60, 0.99),
    (1.190, 17.20, 0.99), (1.210, 17.30, 0.99), (1.230, 17.90, 0.97), (1.250, 17.40, 0.99),
    (1.270, 17.60, 0.97), (1.060, 17.40, 0.99), (1.080, 18.30, 0.90), (1.110, 18.35, 0.90),
    (1.140, 18.30, 0.90), (1.170, 18.40, 0.88), (1.200, 18.35, 0.88), (1.230, 18.40, 0.88),
    (1.260, 18.35, 0.88), (1.290, 18.40, 0.86), (1.320, 18.45, 0.86), (1.350, 18.40, 0.86),
    (1.090, 18.90, 0.78), (1.120, 19.10, 0.72), (1.150, 19.20, 0.70), (1.170, 19.40, 0.66),
    (1.200, 19.55, 0.60), (1.220, 19.20, 0.70), (1.240, 19.30, 0.66), (1.260, 19.55, 0.60),
    (1.280, 19.20, 0.68), (1.300, 19.60, 0.58), (1.320, 19.10, 0.70), (1.340, 19.70, 0.56),
    (1.060, 19.40, 0.64), (1.040, 19.80, 0.56), (1.000, 19.70, 0.56), (0.970, 19.60, 0.58),
    (0.940, 19.50, 0.60), (0.900, 19.75, 0.55), (1.380, 19.80, 0.55), (1.400, 19.50, 0.60),
    (1.440, 19.70, 0.55), (1.480, 19.45, 0.58), (1.130, 16.20, 0.99), (1.170, 16.30, 0.99),
    (1.190, 15.80, 0.99), (1.220, 16.40, 0.99), (1.160, 15.50, 0.99), (1.200, 14.90, 0.99),
    (1.170, 14.20, 0.99), (1.210, 14.70, 0.99),
]

# (BP-RP, G, membership probability)
cmd = [
    (0.771, 7.82, 0.99), (0.759, 7.85, 0.80), (1.057, 8.69, 0.99), (1.123, 10.18, 0.99),
    (2.337, 10.87, 0.62), (0.880, 11.48, 0.99), (0.989, 11.40, 0.99), (1.161, 11.53, 0.99),
    (1.654, 11.30, 0.99), (1.582, 11.85, 0.99), (1.553, 12.09, 0.99), (1.229, 11.96, 0.99),
    (1.095, 12.08, 0.99), (0.874, 12.13, 0.99), (0.902, 12.13, 0.86), (0.943, 12.31, 0.80),
    (0.980, 12.69, 0.99), (1.161, 12.34, 0.99), (1.175, 12.58, 0.99), (1.425, 12.33, 0.99),
    (1.382, 12.65, 0.99), (1.390, 12.80, 0.99), (1.382, 12.90, 0.99), (1.777, 12.53, 0.99),
    (1.238, 13.43, 0.54), (1.287, 13.43, 0.99), (1.324, 13.46, 0.99), (1.353, 13.51, 0.99),
    (1.545, 13.68, 0.62), (1.625, 13.80, 0.87), (1.746, 13.71, 0.99), (1.783, 13.70, 0.78),
    (2.050, 13.73, 0.99), (1.955, 14.01, 0.62), (1.344, 13.98, 0.99), (1.410, 13.88, 0.99),
    (1.525, 14.09, 0.99), (1.338, 14.42, 0.99), (1.683, 14.46, 0.99), (1.726, 14.51, 0.99),
    (1.706, 14.71, 0.99), (1.826, 14.59, 0.54), (1.869, 14.52, 0.99), (1.875, 14.39, 0.99),
    (1.812, 14.95, 0.99), (1.620, 15.03, 0.87), (1.984, 14.71, 0.99), (2.041, 14.47, 0.99),
    (2.162, 14.54, 0.99), (2.127, 14.79, 0.99), (2.047, 15.15, 0.99), (2.079, 15.30, 0.99),
    (2.199, 15.32, 0.99), (2.222, 15.25, 0.99), (2.371, 14.54, 0.99), (2.394, 14.56, 0.99),
    (2.408, 14.79, 0.75), (2.408, 15.10, 0.99), (1.763, 15.71, 0.63), (1.691, 16.13, 0.84),
    (2.013, 15.64, 0.86), (2.079, 15.74, 0.99), (1.975, 15.94, 0.99), (2.050, 15.94, 0.84),
    (2.205, 15.74, 0.99), (2.265, 15.74, 0.99), (2.213, 15.94, 0.99), (2.199, 16.32, 0.99),
    (2.337, 15.63, 0.99), (2.365, 15.64, 0.99), (2.443, 15.79, 0.99), (2.377, 15.96, 0.72),
    (2.357, 16.11, 0.87), (2.463, 16.16, 0.99), (2.558, 16.09, 0.99), (2.572, 16.25, 0.99),
    (2.744, 15.59, 0.99), (2.735, 15.94, 0.99), (2.951, 15.98, 0.86), (3.255, 15.32, 0.62),
    (3.915, 14.98, 0.99), (4.001, 15.83, 0.54), (2.090, 16.62, 0.87), (2.179, 16.74, 0.68),
    (2.205, 16.52, 0.99), (2.277, 16.67, 0.99), (2.363, 16.69, 0.99), (2.452, 16.72, 0.99),
    (2.480, 16.47, 0.99), (2.549, 16.55, 0.99), (2.615, 16.75, 0.99), (2.681, 16.49, 0.99),
    (2.701, 16.27, 0.99), (2.845, 16.42, 0.99), (2.931, 16.44, 0.99), (2.664, 16.72, 0.54),
    (2.314, 17.03, 0.78), (2.033, 17.03, 0.87), (2.018, 17.28, 0.84), (1.955, 17.38, 0.62),
    (1.941, 17.58, 0.70), (1.906, 17.77, 0.62), (2.193, 17.51, 0.99), (2.156, 17.74, 0.84),
    (2.328, 17.13, 0.99), (2.357, 17.38, 0.99), (2.457, 17.26, 0.86), (2.463, 17.56, 0.78),
    (2.543, 17.38, 0.99), (2.586, 17.03, 0.99), (2.629, 16.79, 0.99), (2.687, 17.03, 0.99),
    (2.744, 16.82, 0.99), (2.787, 17.06, 0.99), (2.859, 16.77, 0.99), (2.922, 16.67, 0.99),
    (3.002, 16.77, 0.54), (2.945, 16.98, 0.99), (3.017, 17.00, 0.99), (3.083, 16.93, 0.99),
    (3.146, 16.69, 0.87), (3.160, 17.00, 0.99), (3.017, 17.23, 0.99), (3.060, 17.38, 0.99),
    (3.126, 17.36, 0.99), (3.209, 17.38, 0.87), (3.312, 17.26, 0.87), (3.404, 17.13, 0.99),
    (3.547, 17.13, 0.99), (3.562, 17.33, 0.99), (3.633, 17.03, 0.99), (3.639, 17.28, 0.80),
    (3.504, 17.38, 0.86), (3.834, 17.38, 0.99), (2.572, 17.58, 0.99), (2.658, 17.58, 0.99),
    (2.744, 17.38, 0.99), (2.830, 17.48, 0.99), (2.902, 17.53, 0.99), (2.974, 17.48, 0.99),
    (3.017, 17.69, 0.99), (3.088, 17.58, 0.99), (3.174, 17.53, 0.99), (3.260, 17.58, 0.99),
    (3.332, 17.69, 0.99), (3.404, 17.63, 0.99), (3.461, 17.89, 0.86), (3.576, 17.69, 0.80),
    (3.676, 17.84, 0.99), (3.877, 17.79, 0.62), (3.849, 17.99, 0.99), (3.920, 17.97, 0.99),
    (3.963, 18.14, 0.99), (4.021, 17.89, 0.86), (4.058, 17.99, 0.78), (3.806, 18.24, 0.86),
    (3.834, 18.45, 0.54), (4.021, 18.80, 0.63), (4.058, 19.19, 0.63), (3.820, 19.16, 0.54),
    (3.748, 19.26, 0.63), (2.687, 17.89, 0.54), (2.672, 18.09, 0.87), (2.543, 17.99, 0.70),
    (2.457, 18.21, 0.70), (2.437, 18.50, 0.55), (2.320, 18.12, 0.70), (2.343, 18.19, 0.54),
    (2.701, 18.48, 0.70), (2.463, 18.88, 0.63), (2.621, 18.85, 0.78), (2.715, 19.00, 0.63),
    (2.721, 19.16, 0.78), (2.611, 19.11, 0.63), (2.620, 19.26, 0.63), (2.179, 18.90, 0.54),
    (2.193, 19.05, 0.62), (2.279, 19.29, 0.54), (2.386, 19.66, 0.54), (2.449, 19.90, 0.54),
    (2.681, 19.82, 0.54), (2.830, 19.76, 0.54), (2.893, 19.76, 0.54), (2.974, 19.71, 0.54),
    (2.968, 19.49, 0.63), (3.025, 19.41, 0.54), (3.088, 19.87, 0.70), (3.088, 19.56, 0.54),
    (3.160, 19.76, 0.54), (3.197, 19.82, 0.54), (3.304, 19.90, 0.54), (3.275, 19.56, 0.63),
    (3.261, 19.76, 0.54), (3.318, 19.51, 0.54), (3.476, 19.56, 0.54), (2.859, 19.46, 0.70),
    (2.916, 19.26, 0.70), (3.002, 19.21, 0.63), (3.074, 19.31, 0.63), (3.160, 19.36, 0.63),
    (3.232, 19.21, 0.70), (3.332, 19.36, 0.70), (3.390, 19.26, 0.63), (3.490, 19.31, 0.70),
    (3.562, 19.26, 0.63), (3.619, 19.16, 0.63), (3.676, 19.05, 0.70), (3.762, 19.00, 0.70),
    (3.605, 18.80, 0.63), (3.691, 18.65, 0.63), (3.719, 18.80, 0.78), (3.619, 18.50, 0.86),
    (3.547, 18.45, 0.86), (3.461, 18.60, 0.86), (3.375, 18.55, 0.86), (3.304, 18.70, 0.86),
    (3.232, 18.50, 0.86), (3.160, 18.60, 0.86), (3.088, 18.55, 0.86), (3.017, 18.45, 0.86),
    (2.945, 18.40, 0.86), (2.902, 18.60, 0.86), (2.830, 18.09, 0.86), (2.916, 17.99, 0.86),
    (3.002, 18.04, 0.99), (3.088, 18.09, 0.86), (3.160, 18.24, 0.99), (3.246, 18.09, 0.99),
    (3.318, 17.94, 0.99), (3.404, 18.19, 0.99), (3.476, 18.29, 0.99), (3.547, 18.09, 0.86),
    (3.605, 18.19, 0.70), (3.031, 18.80, 0.78), (3.117, 18.90, 0.78), (3.203, 18.95, 0.78),
    (3.289, 18.90, 0.78), (3.375, 19.00, 0.70), (3.433, 18.90, 0.78), (3.519, 18.95, 0.70),
    (2.974, 19.00, 0.78), (2.916, 18.80, 0.78), (3.045, 19.05, 0.70), (3.174, 19.16, 0.70),
    (3.289, 19.16, 0.63), (3.433, 19.16, 0.63), (3.547, 19.05, 0.70), (2.800, 18.30, 0.88),
    (2.870, 18.25, 0.92), (2.950, 18.20, 0.90), (3.050, 18.28, 0.88), (3.120, 18.35, 0.86),
    (3.200, 18.30, 0.88), (3.280, 18.35, 0.88), (3.360, 18.40, 0.86), (3.440, 18.35, 0.88),
    (3.520, 18.30, 0.88), (3.600, 18.35, 0.86), (3.680, 18.30, 0.84), (2.850, 18.70, 0.80),
    (2.950, 18.75, 0.78), (3.080, 18.72, 0.80), (3.150, 18.80, 0.76), (3.250, 18.75, 0.80),
    (3.350, 18.80, 0.76), (3.450, 18.75, 0.78), (3.550, 18.70, 0.80), (3.650, 18.65, 0.80),
    (3.000, 19.10, 0.70), (3.120, 19.05, 0.72), (3.220, 19.10, 0.68), (3.300, 19.00, 0.72),
    (3.400, 19.05, 0.68), (3.500, 19.10, 0.66), (3.600, 19.00, 0.70), (3.700, 18.95, 0.66),
    (2.900, 19.60, 0.58), (3.050, 19.65, 0.56), (3.150, 19.55, 0.58), (3.250, 19.65, 0.56),
    (3.350, 19.60, 0.58), (3.420, 19.45, 0.60), (3.550, 19.45, 0.58), (3.650, 19.40, 0.60),
    (2.950, 17.85, 0.97), (3.050, 17.90, 0.99), (3.150, 17.85, 0.97), (3.250, 17.80, 0.99),
    (3.350, 17.85, 0.97), (3.450, 17.80, 0.95), (3.100, 17.75, 0.99), (2.750, 17.70, 0.99),
    (2.850, 17.80, 0.97), (3.200, 18.15, 0.95), (3.300, 18.20, 0.92), (2.780, 17.25, 0.99),
    (2.880, 17.15, 0.99), (3.000, 17.45, 0.99), (2.600, 17.25, 0.99), (2.500, 16.95, 0.99),
    (2.400, 16.85, 0.99), (2.300, 16.40, 0.99),
]

prob_min, prob_max = 0.502, 1.0


def unpack(rows):
    arr = np.array(rows)
    order = np.argsort(arr[:, 2], kind="stable")
    return arr[order, 0], arr[order, 1], arr[order, 2]


fig = plt.figure(figsize=(11.36, 10.67), dpi=100)
ax1 = fig.add_axes([0.0819, 0.5398, 0.3697, 0.3955])
ax2 = fig.add_axes([0.5528, 0.5398, 0.3706, 0.3955])
ax3 = fig.add_axes([0.0819, 0.0628, 0.3697, 0.3955])
ax4 = fig.add_axes([0.5528, 0.0628, 0.3706, 0.3955])
cax = fig.add_axes([0.9357, 0.0628, 0.0194, 0.8744])

style = dict(cmap="plasma", vmin=prob_min, vmax=prob_max, s=50, alpha=0.8,
             edgecolors="k", linewidths=0.2)

x, y, p = unpack(sky)
sc = ax1.scatter(x, y, c=p, **style)
ax1.set_xlim(108.467, 111.277)
ax1.set_ylim(1.641, 3.780)
ax1.set_xlabel("GLON [deg]")
ax1.set_ylabel("GLAT [deg]")

x, y, p = unpack(pms)
ax2.scatter(x, y, c=p, **style)
ax2.set_xlim(-1.931, -0.641)
ax2.set_ylim(-3.298, -2.236)
ax2.set_xlabel("pmRA [mas/yr]")
ax2.set_ylabel("pmDE [mas/yr]")

x, y, p = unpack(plx_g)
ax3.scatter(x, y, c=p, **style)
ax3.axvline(plx_median, color="k", ls=":", lw=4)
ax3.set_xlim(0.682, 1.640)
ax3.set_ylim(20.20, 7.34)
ax3.set_xlabel("Plx [mas]")
ax3.set_ylabel("G [mag]")

x, y, p = unpack(cmd)
ax4.scatter(x, y, c=p, **style)
ax4.set_xlim(0.598, 4.224)
ax4.set_ylim(20.20, 7.34)
ax4.set_xlabel("BP-RP [mag]")
ax4.set_ylabel("G [mag]")

cb = fig.colorbar(sc, cax=cax)
cb.solids.set_alpha(0.8)
cb.ax.tick_params(which="both", direction="in")
cb.ax.minorticks_on()

fig.suptitle(title, x=0.4665, y=0.989, fontsize=15)
fig.savefig("out.png", dpi=100)
